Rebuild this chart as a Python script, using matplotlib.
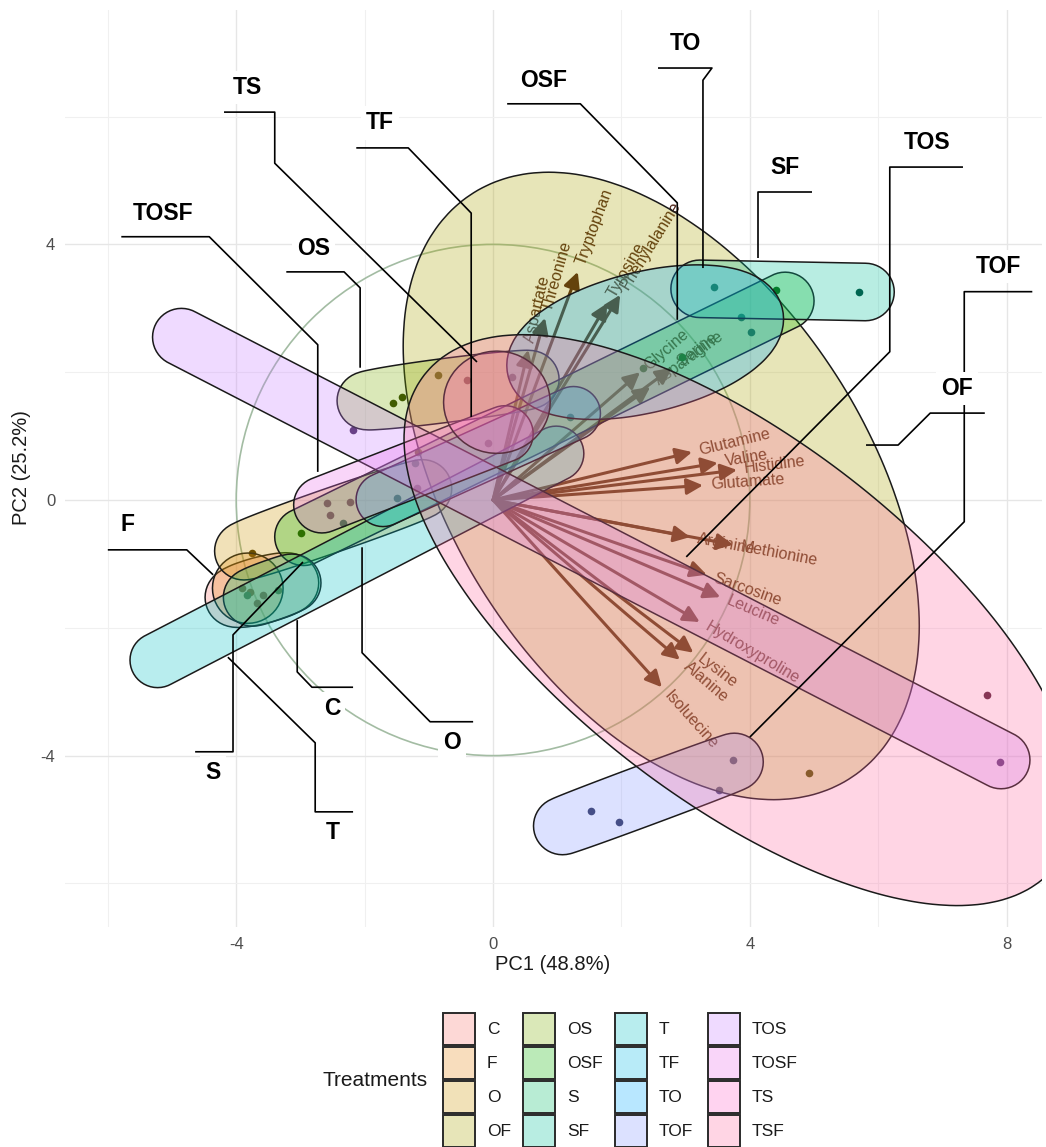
import numpy as np
import matplotlib
matplotlib.use("Agg")
import matplotlib.pyplot as plt
from matplotlib.patches import Polygon, Rectangle, Circle, FancyArrowPatch
from matplotlib.colors import to_rgb

plt.rcParams['font.family'] = ['Liberation Sans', 'DejaVu Sans']
plt.rcParams['axes.unicode_minus'] = False

# ---------------- data ----------------
treatments = ["C", "F", "O", "OF", "OS", "OSF", "S", "SF",
              "T", "TF", "TO", "TOF", "TOS", "TOSF", "TS", "TSF"]
palette = ["#F8766D", "#E68613", "#CD9600", "#ABA300", "#7CAE00", "#0CB702",
           "#00BE67", "#00C19A", "#00BFC4", "#00B8E7", "#00A9FF", "#8494FF",
           "#C77CFF", "#ED68ED", "#FF61CC", "#FF68A1"]

# enclosing ellipse of each treatment group (PC units, angle in degrees)
ell_pc1 = [-3.60, -3.82, -2.49, 2.62, -0.70, 0.80, -3.44, 4.51,
           -2.12, -0.23, 2.37, 2.42, 1.53, -1.24, 0.06, 3.85]
ell_pc2 = [-1.41, -1.38, -0.31, 0.22, 1.72, 1.27, -1.41, 3.28,
           -0.89, 0.68, 2.47, -4.60, -0.76, 0.48, 1.53, -1.88]
ell_semi_major = [0.90, 0.55, 1.93, 5.44, 1.74, 4.63, 0.78, 1.74,
                  3.93, 2.05, 2.20, 1.88, 7.64, 1.97, 0.83, 6.24]
ell_semi_minor = [0.52, 0.55, 0.50, 3.23, 0.50, 0.45, 0.47, 0.45,
                  0.43, 0.42, 1.10, 0.47, 0.45, 0.44, 0.80, 2.80]
ell_angle = [15, 0, 19.3, -57.3, 7.4, 26.2, 20, -1.1,
             27.5, 24.5, 14, 20.5, -27.4, 21.3, 0, -38]

# sample scores
score_group = ["TOF", "TOF", "TOF", "TOF", "TSF", "TOS", "TOS", "OF", "OF",
               "OS", "OS", "SF", "SF", "OSF", "OSF", "OSF", "OSF", "TO", "TO",
               "TF", "TF", "TS", "TS", "TS", "TOSF", "TOSF", "TOSF", "TOSF",
               "T", "T", "C", "C", "F", "F", "S", "S", "O", "O"]
score_pc1 = [1.53, 1.96, 3.52, 3.74, 7.69, 7.90, -2.18, 4.92, -0.86,
             -1.56, -1.42, 3.44, 5.70, 4.41, 2.34, 2.94, -2.99, 3.86, 4.02,
             -1.50, 1.20, -0.08, -0.40, 0.30, -2.59, -2.23, -2.54, -1.18,
             -2.34, -1.21, -3.68, -3.58, -3.91, -3.79, -3.35, -3.83, -3.75, -1.17]
score_pc2 = [-4.87, -5.04, -4.54, -4.07, -3.05, -4.10, 1.10, -4.27, 1.96,
             1.52, 1.61, 3.33, 3.26, 3.29, 2.07, 2.24, -0.52, 2.86, 2.63,
             0.03, 1.30, 0.89, 1.88, 1.92, -0.05, -0.03, -0.23, 0.19,
             -0.36, 0.58, -1.61, -1.49, -1.38, -1.44, -1.41, -1.49, -0.83, 0.75]

# variable loadings (biplot scaling)
variables = ["Glutamine", "Valine", "Histidine", "Glutamate", "Arginine",
             "Methionine", "Sarcosine", "Leucine", "Hydroxyproline", "Lysine",
             "Alanine", "Isoluecine", "Tryptophan", "Threonine", "Aspartate",
             "Tyrosine", "Phenylalanine", "Glycine", "Asparagine", "Serine"]
load_pc1 = [3.10, 3.50, 3.80, 3.27, 3.07, 3.74, 3.33, 3.54, 3.22, 3.12,
            2.91, 2.63, 1.32, 0.81, 0.55, 1.78, 1.98, 2.29, 2.45, 2.79]
load_pc2 = [0.75, 0.58, 0.47, 0.23, -0.58, -0.70, -1.17, -1.52, -1.91, -2.39,
            -2.50, -2.93, 3.57, 2.85, 2.35, 3.08, 3.21, 2.00, 1.77, 2.07]

# group label layout: text anchor and connector path (PC units)
label_text_xy = {
    "TS": (-3.82, 6.45), "TF": (-1.76, 5.90), "TOSF": (-5.14, 4.49),
    "OS": (-2.79, 3.94), "OSF": (0.79, 6.57), "TO": (2.99, 7.15),
    "SF": (4.55, 5.21), "TOS": (6.76, 5.60), "TOF": (7.88, 3.65),
    "OF": (7.23, 1.74), "F": (-5.70, -0.39), "S": (-4.36, -4.26),
    "T": (-2.49, -5.20), "C": (-2.51, -3.26), "O": (-0.64, -3.80),
}
label_paths = {
    "TS": [(-4.19, 6.07), (-3.40, 6.07), (-3.40, 5.27), (-0.25, 2.16)],
    "TF": [(-2.13, 5.51), (-1.32, 5.51), (-0.34, 4.49), (-0.34, 1.30)],
    "TOSF": [(-5.79, 4.12), (-4.42, 4.12), (-2.73, 2.43), (-2.73, 0.44)],
    "OS": [(-3.22, 3.57), (-2.32, 3.57), (-2.07, 3.32), (-2.07, 2.07)],
    "OSF": [(0.22, 6.20), (1.36, 6.20), (2.87, 4.65), (2.87, 2.82)],
    "TO": [(2.57, 6.76), (3.41, 6.76), (3.27, 6.57), (3.27, 3.63)],
    "SF": [(4.97, 4.82), (4.13, 4.82), (4.13, 3.79)],
    "TOS": [(7.32, 5.21), (6.18, 5.21), (6.18, 2.32), (3.01, -0.89)],
    "TOF": [(8.40, 3.26), (7.34, 3.26), (7.34, -0.34), (4.00, -3.71)],
    "OF": [(7.66, 1.36), (6.81, 1.36), (6.31, 0.86), (5.81, 0.86)],
    "F": [(-6.00, -0.78), (-4.77, -0.78), (-4.36, -1.17)],
    "S": [(-4.64, -3.94), (-4.05, -3.94), (-4.05, -2.11), (-2.96, -0.97)],
    "T": [(-2.18, -4.88), (-2.77, -4.88), (-2.77, -3.80), (-4.13, -2.46)],
    "C": [(-2.18, -2.93), (-2.82, -2.93), (-3.05, -2.69), (-3.05, -1.88)],
    "O": [(-0.31, -3.47), (-0.98, -3.47), (-2.04, -2.39), (-2.04, -0.74)],
}

FILL_ALPHA = 0.28
ARROW_COLOR = "#4A1E12"


def convex_hull(xs, ys):
    pts = sorted(set(zip(np.round(xs, 5), np.round(ys, 5))))

    def cross(o, a, b):
        return (a[0] - o[0]) * (b[1] - o[1]) - (a[1] - o[1]) * (b[0] - o[0])

    lower, upper = [], []
    for p in pts:
        while len(lower) >= 2 and cross(lower[-2], lower[-1], p) <= 0:
            lower.pop()
        lower.append(p)
    for p in reversed(pts):
        while len(upper) >= 2 and cross(upper[-2], upper[-1], p) <= 0:
            upper.pop()
        upper.append(p)
    return np.array(lower[:-1] + upper[:-1])


def mark_outline(cx, cy, a, b, ang, expand=0.45, n=220, m=48):
    """Ellipse shrunk by the expansion radius, then grown back with round corners."""
    r = min(b, expand)
    ca, cb = max(a - r, 1e-4), max(b - r, 0.0)
    t = np.linspace(0, 2 * np.pi, n, endpoint=False)
    ex, ey = ca * np.cos(t), cb * np.sin(t)
    th = np.radians(ang)
    x = cx + ex * np.cos(th) - ey * np.sin(th)
    y = cy + ex * np.sin(th) + ey * np.cos(th)
    s = np.linspace(0, 2 * np.pi, m, endpoint=False)
    px = (x[:, None] + r * np.cos(s)[None, :]).ravel()
    py = (y[:, None] + r * np.sin(s)[None, :]).ravel()
    return convex_hull(px, py)


W, H = 1046, 1147
fig = plt.figure(figsize=(W / 100, H / 100), dpi=100)
ax = fig.add_axes([65 / W, 1 - 927 / H, (1042 - 65) / W, (927 - 10) / H])
ax.set_xlim(-6.667, 8.551)
ax.set_ylim(-6.682, 7.668)

# grid
ax.set_xticks([-4, 0, 4, 8])
ax.set_yticks([-4, 0, 4])
ax.set_xticks([-6, -2, 2, 6], minor=True)
ax.set_yticks([-6, -2, 2, 6], minor=True)
ax.grid(which='major', color='#E6E6E6', lw=1.0)
ax.grid(which='minor', color='#F0F0F0', lw=0.8)
ax.set_axisbelow(True)
for sp in ax.spines.values():
    sp.set_visible(False)
ax.tick_params(which='both', length=0)
ax.tick_params(which='major', labelsize=12, labelcolor='#4D4D4D', pad=7)

# correlation circle
ax.add_patch(Circle((0, 0), 4.0, fill=False, ec='#A3BCA3', lw=1.2, zorder=1))

# variable arrows and names
for name, vx, vy in zip(variables, load_pc1, load_pc2):
    arr = FancyArrowPatch((0, 0), (vx, vy), arrowstyle='-|>,head_length=0.7,head_width=0.35',
                          mutation_scale=14, color=ARROW_COLOR, lw=2.2,
                          shrinkA=0, shrinkB=0, zorder=2)
    ax.add_patch(arr)
    ang = np.degrees(np.arctan2(vy, vx))
    L = np.hypot(vx, vy)
    ax.text(vx + 0.12 * vx / L, vy + 0.12 * vy / L, name, rotation=ang,
            rotation_mode='anchor', ha='left', va='center', fontsize=11.5,
            color=ARROW_COLOR, zorder=2)

# sample points
col_of = dict(zip(treatments, palette))
for g, x, y in zip(score_group, score_pc1, score_pc2):
    dark = tuple(0.35 * c for c in to_rgb(col_of[g]))
    ax.plot(x, y, 'o', ms=5.5, color=dark, mec='none', zorder=3)

# group marks
for i, g in enumerate(treatments):
    poly = mark_outline(ell_pc1[i], ell_pc2[i], ell_semi_major[i],
                        ell_semi_minor[i], ell_angle[i])
    ax.add_patch(Polygon(poly, closed=True, fc=(*to_rgb(palette[i]), FILL_ALPHA),
                         ec='#1A1A1A', lw=1.1, zorder=4 + i * 0.01))

# group labels with connectors
for g, path in label_paths.items():
    xs, ys = zip(*path)
    ax.plot(xs, ys, color='black', lw=1.2, zorder=20, solid_capstyle='butt')
    tx, ty = label_text_xy[g]
    ax.text(tx, ty, g, ha='center', va='center', fontsize=16.5, fontweight='bold',
            color='black', zorder=21,
            bbox=dict(boxstyle='square,pad=0.22', fc='white', ec='none'))

# axis titles
fig.text(553 / W, 1 - 965 / H, "PC1 (48.8%)", ha='center', va='center', fontsize=14.5,
         color='#1A1A1A')
fig.text(22 / W, 1 - 468 / H, "PC2 (25.2%)", ha='center', va='center', fontsize=14.5,
         rotation=90, color='#1A1A1A')

# legend
key_cols = [443, 523, 615, 708]
row_tops = [1013, 1047, 1081, 1115]
key = 32
for i, (g, col) in enumerate(zip(treatments, palette)):
    c, r = divmod(i, 4)
    x0, y0 = key_cols[c], row_tops[r]
    fig.add_artist(Rectangle((x0 / W, 1 - (y0 + key) / H), key / W, key / H,
                             transform=fig.transFigure, fc=(*to_rgb(col), FILL_ALPHA),
                             ec='#2A2A2A', lw=1.4))
    fig.text((x0 + key + 12) / W, 1 - (y0 + key / 2) / H, g, ha='left', va='center',
             fontsize=12.5, color='#1A1A1A')
fig.text(428 / W, 1 - 1080 / H, "Treatments", ha='right', va='center', fontsize=15,
         color='#1A1A1A')

fig.savefig("out.png", dpi=100, facecolor='white')
